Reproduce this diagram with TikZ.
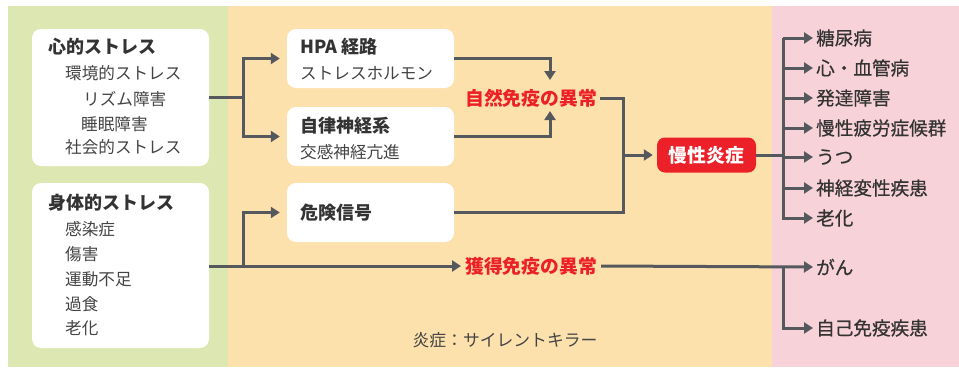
\documentclass[tikz,border=0pt]{standalone}
\usepackage{fontspec}
\setmainfont{Noto Sans CJK JP}
\newfontfamily\disfont[FakeBold=0.6]{Noto Sans CJK JP}
\usetikzlibrary{arrows.meta}
\definecolor{bggreen}{HTML}{DCE7B1}
\definecolor{bgorange}{HTML}{FDE1AD}
\definecolor{bgpink}{HTML}{F8D2D9}
\definecolor{lnc}{HTML}{55595D}
\definecolor{redc}{HTML}{EB2029}
\definecolor{txt}{HTML}{333333}
\definecolor{subt}{HTML}{444444}
\tikzset{
  card/.style={fill=white,rounded corners=9pt,draw=none,inner sep=0pt},
  ttl/.style={anchor=west,inner sep=0pt,font=\fontsize{18}{20}\selectfont\bfseries,text=txt},
  sub/.style={anchor=west,inner sep=0pt,font=\fontsize{16.6}{19}\selectfont,text=subt},
  redlbl/.style={inner sep=0pt,font=\fontsize{18.8}{20}\selectfont\bfseries,text=redc},
  dis/.style={anchor=west,inner sep=0pt,font=\disfont\fontsize{18.6}{20}\selectfont,text=txt},
  conn/.style={draw=lnc,line width=3pt},
  arr/.style={conn,-{Triangle[length=9pt,width=11pt]}},
}
\begin{document}
\begin{tikzpicture}[x=1pt,y=-1pt]
\useasboundingbox (0,0) rectangle (959,367);
% panels
\fill[bggreen] (8,6) rectangle (228,367);
\fill[bgorange] (228,6) rectangle (772,367);
\fill[bgpink] (772,6) rectangle (959,367);
% left cards
\node[card,minimum width=177pt,minimum height=137pt] (psy) at (120.5,97.5) {};
\node[card,minimum width=177pt,minimum height=165pt] (phy) at (120.5,265.5) {};
\node[ttl] (psyt) at (48,47) {心的ストレス};
\node[sub] (p1) at (65,73) {環境的ストレス};
\node[sub] (p2) at (83,99) {リズム障害};
\node[sub] (p3) at (81,124) {睡眠障害};
\node[sub] (p4) at (65,147) {社会的ストレス};
\node[ttl] (phyt) at (48,203) {身体的ストレス};
\node[sub] (q1) at (65,229) {感染症};
\node[sub] (q2) at (65,254) {傷害};
\node[sub] (q3) at (65,279) {運動不足};
\node[sub] (q4) at (65,304) {過食};
\node[sub] (q5) at (65,328) {老化};
% middle cards
\node[card,minimum width=167pt,minimum height=59pt] (hpa) at (370.5,58.5) {};
\node[card,minimum width=167pt,minimum height=59pt] (ans) at (370.5,136.5) {};
\node[card,minimum width=167pt,minimum height=59pt] (dng) at (370.5,212.5) {};
\node[ttl] (hpat) at (300,47) {HPA 経路};
\node[sub] (hpas) at (300,73) {ストレスホルモン};
\node[ttl] (anst) at (300,126) {自律神経系};
\node[sub] (anss) at (300,152) {交感神経亢進};
\node[ttl] (dngt) at (300,213) {危険信号};
% red labels
\node[redlbl] (inn) at (531,98) {自然免疫の異常};
\node[redlbl] (acq) at (531,266) {獲得免疫の異常};
\node[fill=redc,rounded corners=8pt,minimum width=99pt,minimum height=35pt,inner sep=0pt,text=white,font=\fontsize{18.8}{20}\selectfont\bfseries] (chr) at (706.5,155) {慢性炎症};
\node[inner sep=0pt,font=\fontsize{16.8}{19}\selectfont,text=subt] (sil) at (505,340) {炎症：サイレントキラー};
% diseases
\node[dis] (d1) at (816,38) {糖尿病};
\node[dis] (d2) at (816,68) {心・血管病};
\node[dis] (d3) at (816,98) {発達障害};
\node[dis] (d4) at (816,128) {慢性疲労症候群};
\node[dis] (d5) at (816,157) {うつ};
\node[dis] (d6) at (816,188) {神経変性疾患};
\node[dis] (d7) at (816,218) {老化};
\node[dis] (d8) at (816,267) {がん};
\node[dis] (d9) at (816,328) {自己免疫疾患};
% coordinates
\coordinate (s1) at (243,97);
\coordinate (s2) at (243,266);
\coordinate (j1) at (623,155);
\coordinate (j2) at (783,155);
\coordinate (j3) at (783,266);
% connectors
\draw[conn] (psy.east |- s1) -- (s1);
\draw[arr] (s1) |- ([xshift=-7pt]hpa.west);
\draw[arr] (s1) |- ([xshift=-7pt]ans.west);
\draw[conn] (phy.east |- s2) -- (s2);
\draw[arr] (s2) |- ([xshift=-7pt]dng.west);
\draw[arr] (s2) -- ([xshift=-4pt]acq.west);
\draw[arr] (hpa.east) -| (550,80);
\draw[arr] (ans.east) -| (550,111);
\draw[conn] ([xshift=3pt]inn.east) -| (j1) |- (dng.east);
\draw[arr] (j1) -- ([xshift=-4pt]chr.west);
\draw[conn] (chr.east) -- (j2);
\draw[conn] (783,37.5) -- (783,219.5);
\foreach \d in {d1,d2,d3,d4,d5,d6,d7} {
  \draw[arr] (j2 |- \d.west) -- ([xshift=-3pt]\d.west);
}
\draw[arr] ([xshift=4pt]acq.east) -- ([xshift=-3pt]d8.west);
\draw[arr] (j3) |- ([xshift=-3pt]d9.west);
\end{tikzpicture}
\end{document}
